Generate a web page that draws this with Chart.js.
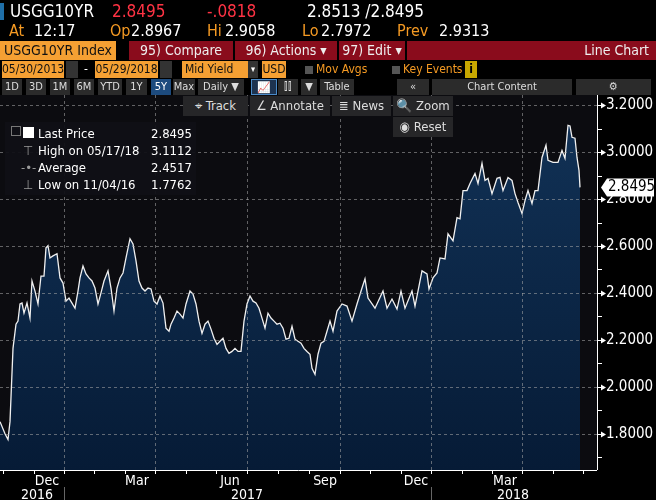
<!DOCTYPE html>
<html><head><meta charset="utf-8">
<script src="https://cdn.jsdelivr.net/npm/chart.js@4"></script>
<style>
body{margin:0;background:#000;width:656px;height:500px;overflow:hidden;font-family:"Liberation Sans Narrow","DejaVu Sans Condensed",sans-serif;color:#fff;position:relative}
.a{position:absolute;white-space:nowrap}
.h1{font-size:17px;top:1px}
.h2{font-size:16px;top:21px}
.o{color:#f59a23}.r{color:#ff3344}
.bar{top:41px;height:19px;font-size:14px;line-height:19px}
.ob{background:#f5a033;color:#111}
.rb{background:#8a0c1c;color:#eee}
.r4{top:61px;height:17px;font-size:12px;line-height:17px}
.r5{top:79px;height:16px;font-size:11px;line-height:16px;background:#2b2b2b;color:#ddd;text-align:center}
.tb{top:96px;height:20px;font-size:13px;line-height:20px;background:#262628;color:#ddd}
</style></head><body>
<div class="a" style="left:0;top:3px;width:4px;height:17px;background:#1f6fa8"></div>
<div class="a h1" style="left:10px">USGG10YR</div>
<div class="a h1 r" style="left:112px">2.8495</div>
<div class="a h1 r" style="left:207px">-.0818</div>
<div class="a h1" style="left:307px">2.8513 /2.8495</div>
<div class="a h2 o" style="left:9px">At</div><div class="a h2" style="left:34px">12:17</div>
<div class="a h2 o" style="left:110px">Op</div><div class="a h2" style="left:131px">2.8967</div>
<div class="a h2 o" style="left:207px">Hi</div><div class="a h2" style="left:225px">2.9058</div>
<div class="a h2 o" style="left:302px">Lo</div><div class="a h2" style="left:321px">2.7972</div>
<div class="a h2 o" style="left:397px">Prev</div><div class="a h2" style="left:439px">2.9313</div>
<div class="a bar ob" style="left:0;width:112px;padding-left:4px">USGG10YR Index</div>
<div class="a bar rb" style="left:129px;width:104px;text-align:center">95) Compare</div>
<div class="a bar rb" style="left:235px;width:102px;text-align:center">96) Actions ▾</div>
<div class="a bar rb" style="left:339px;width:66px;text-align:center">97) Edit ▾</div>
<div class="a bar rb" style="left:407px;width:242px;text-align:right;padding-right:7px">Line Chart</div>
<div class="a r4 ob" style="left:2px;width:62px;text-align:center">05/30/2013</div>
<div class="a r4" style="left:66px;width:12px;background:#333"></div>
<div class="a r4" style="left:84px">-</div>
<div class="a r4 ob" style="left:95px;width:63px;text-align:center">05/29/2018</div>
<div class="a r4" style="left:160px;width:12px;background:#333"></div>
<div class="a r4 ob" style="left:182px;width:63px;padding-left:3px">Mid Yield</div>
<div class="a r4" style="left:248px;width:10px;background:#333;font-size:9px;text-align:center">▾</div>
<div class="a r4 ob" style="left:262px;width:24px;text-align:center">USD</div>
<div class="a r4" style="left:305px;width:8px;height:8px;top:66px;background:#555"></div>
<div class="a r4 o" style="left:316px">Mov Avgs</div>
<div class="a r4" style="left:392px;width:8px;height:8px;top:66px;background:#555"></div>
<div class="a r4 o" style="left:403px">Key Events</div>
<div class="a r4" style="left:465px;width:12px;background:#c8a800;color:#000;text-align:center;font-weight:bold">i</div>
<div class="a r5" style="left:2px;width:20px">1D</div>
<div class="a r5" style="left:26px;width:20px">3D</div>
<div class="a r5" style="left:50px;width:20px">1M</div>
<div class="a r5" style="left:74px;width:20px">6M</div>
<div class="a r5" style="left:98px;width:24px">YTD</div>
<div class="a r5" style="left:126px;width:21px">1Y</div>
<div class="a r5" style="left:151px;width:20px;background:#1d4b7e;color:#fff">5Y</div>
<div class="a r5" style="left:173px;width:22px">Max</div>
<div class="a r5" style="left:198px;width:46px">Daily ▼</div>
<div class="a r5" style="left:251px;width:24px;background:#1d3350;border:1px solid #4a8ac8;height:14px">📈</div>
<div class="a r5" style="left:278px;width:20px">⫿⫿</div>
<div class="a r5" style="left:301px;width:16px">▼</div>
<div class="a r5" style="left:320px;width:34px">Table</div>
<div class="a r5" style="left:397px;width:32px">«</div>
<div class="a r5" style="left:432px;width:140px">Chart Content</div>
<div class="a r5" style="left:576px;width:75px">⚙</div>
<div class="a tb" style="left:183px;width:65px;text-align:center">⌖ Track</div>
<div class="a tb" style="left:250px;width:80px;text-align:center">∠ Annotate</div>
<div class="a tb" style="left:332px;width:59px;text-align:center">≣ News</div>
<div class="a tb" style="left:393px;width:60px;text-align:center">🔍 Zoom</div>
<div class="a tb" style="left:393px;top:117px;width:60px;text-align:center">◉ Reset</div>
<canvas id="c" style="position:absolute;left:0;top:95px;width:656px;height:405px;z-index:-1"></canvas>
<div class="a" style="left:5px;top:122px;width:191px;height:73px;background:rgba(16,16,22,0.95);font-size:13px;line-height:17px;font-family:'DejaVu Sans Condensed',sans-serif">
 <div class="a" style="left:6px;top:4px;width:8px;height:8px;border:1px solid #777"></div>
 <div class="a" style="left:18px;top:5px;width:11px;height:11px;background:#fff"></div>
 <div class="a" style="left:33px;top:3px">Last Price</div><div class="a" style="left:146px;top:3px">2.8495</div>
 <div class="a" style="left:18px;top:20px;color:#999">⊤</div><div class="a" style="left:33px;top:20px">High on 05/17/18</div><div class="a" style="left:146px;top:20px">3.1112</div>
 <div class="a" style="left:16px;top:37px;color:#999">-•-</div><div class="a" style="left:33px;top:37px">Average</div><div class="a" style="left:146px;top:37px">2.4517</div>
 <div class="a" style="left:18px;top:54px;color:#999">⊥</div><div class="a" style="left:33px;top:54px">Low on 11/04/16</div><div class="a" style="left:146px;top:54px">1.7762</div>
</div>
<script>
const dayIdx=[0,5,8,10,13,16,18,20,22,24,27,30,32,35,38,41,44,46,48,50,53,57,60,63,66,69,72,75,78,80,83,86,89,92,95,98,101,104,108,111,114,117,120,123,126,130,133,136,139,142,145,148,151,154,157,160,163,166,169,171,174,177,180,183,186,190,193,196,199,202,205,208,211,214,217,220,223,226,229,232,235,238,241,244,247,250,253,256,259,262,265,268,271,274,277,280,283,286,289,292,295,298,301,304,307,310,312,315,318,321,324,327,330,333,337,342,347,352,357,362,365,368,375,383,387,392,397,401,405,412,415,418,422,427,429,433,437,440,445,448,453,457,460,463,467,470,475,478,482,485,488,492,497,500,503,508,512,515,518,522,525,528,532,535,538,542,546,548,553,558,562,565,568,570,572,575,577,579,580];
const yields=[1.852,1.800,1.776,1.852,2.164,2.267,2.280,2.353,2.357,2.314,2.357,2.293,2.451,2.408,2.353,2.472,2.472,2.592,2.601,2.549,2.558,2.567,2.464,2.442,2.365,2.378,2.357,2.335,2.408,2.464,2.515,2.481,2.464,2.451,2.421,2.353,2.400,2.451,2.494,2.421,2.323,2.421,2.464,2.485,2.549,2.631,2.609,2.537,2.451,2.421,2.408,2.421,2.417,2.365,2.353,2.387,2.357,2.250,2.237,2.267,2.293,2.323,2.310,2.293,2.353,2.408,2.395,2.353,2.280,2.228,2.267,2.280,2.246,2.207,2.181,2.194,2.207,2.164,2.143,2.151,2.164,2.151,2.151,2.280,2.353,2.387,2.365,2.357,2.335,2.293,2.250,2.314,2.293,2.280,2.267,2.271,2.250,2.203,2.207,2.258,2.203,2.194,2.186,2.164,2.151,2.139,2.079,2.053,2.139,2.186,2.194,2.237,2.280,2.237,2.323,2.353,2.344,2.280,2.353,2.421,2.460,2.378,2.335,2.408,2.335,2.374,2.331,2.408,2.335,2.408,2.344,2.408,2.494,2.481,2.417,2.464,2.485,2.549,2.545,2.652,2.622,2.721,2.716,2.836,2.836,2.866,2.909,2.866,2.952,2.879,2.888,2.823,2.888,2.892,2.836,2.892,2.879,2.823,2.785,2.738,2.793,2.836,2.781,2.836,2.836,2.977,3.029,2.965,2.956,2.956,3.007,2.973,3.114,3.111,3.063,3.059,2.977,2.922,2.8495];
const monthGrid=[64,155,247,340,431,522];
const monthLabels=[["Dec",47],["Mar",137],["Jun",230],["Sep",325],["Dec",416],["Mar",505]];
const yearLabels=[["2016",37],["2017",247],["2018",513]];
const yearSeps=[64,431];
const monthTicks=[3,34,64,94,125,155,186,216,247,278,309,340,370,401,431,462,492,522,553,583];
const yTicks=[1.7,1.8,1.9,2.0,2.1,2.2,2.3,2.4,2.5,2.6,2.7,2.8,2.9,3.0,3.1,3.2];
const lastPrice="2.8495";
const FONT='"Liberation Sans Narrow","DejaVu Sans Condensed",sans-serif';

const deco={id:'deco',
 beforeDraw(ch){const {ctx,chartArea:a}=ch;ctx.save();ctx.fillStyle='#0c0c10';ctx.fillRect(a.left,a.top,a.right-a.left,a.bottom-a.top);ctx.restore();},
 afterDatasetsDraw(ch){const {ctx,chartArea:a,scales:{x,y}}=ch;ctx.save();
  ctx.strokeStyle='rgba(170,170,170,0.55)';ctx.lineWidth=1;ctx.setLineDash([3,3]);
  x.ticks.forEach(t=>{const px=Math.round(x.getPixelForValue(t.value))+0.5;ctx.beginPath();ctx.moveTo(px,a.top);ctx.lineTo(px,a.bottom);ctx.stroke();});
  y.ticks.forEach(t=>{const py=Math.round(y.getPixelForValue(t.value))+0.5;ctx.beginPath();ctx.moveTo(a.left,py);ctx.lineTo(a.right,py);ctx.stroke();});
  ctx.restore();},
 afterDraw(ch){const {ctx,chartArea:a,scales:{x,y}}=ch;ctx.save();
  ctx.strokeStyle='#fff';ctx.lineWidth=1;
  ctx.beginPath();ctx.moveTo(a.left,a.bottom+0.5);ctx.lineTo(a.right,a.bottom+0.5);ctx.moveTo(a.right+0.5,a.top);ctx.lineTo(a.right+0.5,a.bottom);ctx.stroke();
  monthTicks.forEach(t=>{const px=Math.round(x.getPixelForValue(t))+0.5;ctx.beginPath();ctx.moveTo(px,a.bottom);ctx.lineTo(px,a.bottom+4);ctx.stroke();});
  ctx.strokeStyle='#666';yearSeps.forEach(t=>{const px=Math.round(x.getPixelForValue(t))+0.5;ctx.beginPath();ctx.moveTo(px,a.bottom+17);ctx.lineTo(px,a.bottom+32);ctx.stroke();});
  ctx.fillStyle='#fff';ctx.font='14px '+FONT;ctx.textAlign='center';ctx.textBaseline='middle';
  monthLabels.forEach(([l,v])=>ctx.fillText(l,x.getPixelForValue(v),a.bottom+11));
  yearLabels.forEach(([l,v])=>ctx.fillText(l,x.getPixelForValue(v),a.bottom+25));
  ctx.strokeStyle='#fff';ctx.textAlign='left';ctx.font='15px '+FONT;
  yTicks.forEach(v=>{const py=Math.round(y.getPixelForValue(v))+0.5;const major=Math.round(v*10)%2===0;
   ctx.beginPath();ctx.moveTo(a.right,py);ctx.lineTo(a.right+(major?4:5),py);ctx.stroke();
   if(major){ctx.beginPath();ctx.moveTo(a.right+4,py-3);ctx.lineTo(a.right+9,py);ctx.lineTo(a.right+4,py+3);ctx.fill();ctx.fillText(v.toFixed(4),a.right+9,py);}});
  const py=y.getPixelForValue(parseFloat(lastPrice));
  ctx.fillStyle='#fff';ctx.beginPath();ctx.moveTo(a.right+4,py);ctx.lineTo(a.right+10,py-9);ctx.lineTo(654,py-9);ctx.lineTo(654,py+9);ctx.lineTo(a.right+10,py+9);ctx.closePath();ctx.fill();
  ctx.fillStyle='#000';ctx.fillText(lastPrice,a.right+11,py);
  ctx.restore();}};

new Chart(document.getElementById('c'),{type:'line',
 data:{datasets:[{data:dayIdx.map((d,i)=>({x:d,y:yields[i]})),borderColor:'#f0f0f0',borderWidth:1.3,pointRadius:0,tension:0,
  fill:'start',backgroundColor:(c)=>{const a=c.chart.chartArea;if(!a)return '#0b2442';const g=c.chart.ctx.createLinearGradient(0,a.top,0,a.bottom);g.addColorStop(0,'#123358');g.addColorStop(1,'#061b36');return g;}}]},
 options:{responsive:false,animation:false,devicePixelRatio:1,
  layout:{padding:{left:0,right:51,top:0,bottom:22}},
  plugins:{legend:{display:false},tooltip:{enabled:false}},
  scales:{
   x:{type:'linear',min:0,max:597,
    afterBuildTicks:s=>{s.ticks=monthGrid.map(v=>({value:v}));},
    ticks:{display:false},grid:{display:false},border:{display:false}},
   y:{type:'linear',position:'right',min:1.646,max:3.243,
    afterBuildTicks:s=>{s.ticks=yTicks.filter(v=>Math.round(v*10)%2===0).map(v=>({value:v}));},
    ticks:{display:false},grid:{display:false},border:{display:false}}
  }},
 plugins:[deco]});
</script>
</body></html>
